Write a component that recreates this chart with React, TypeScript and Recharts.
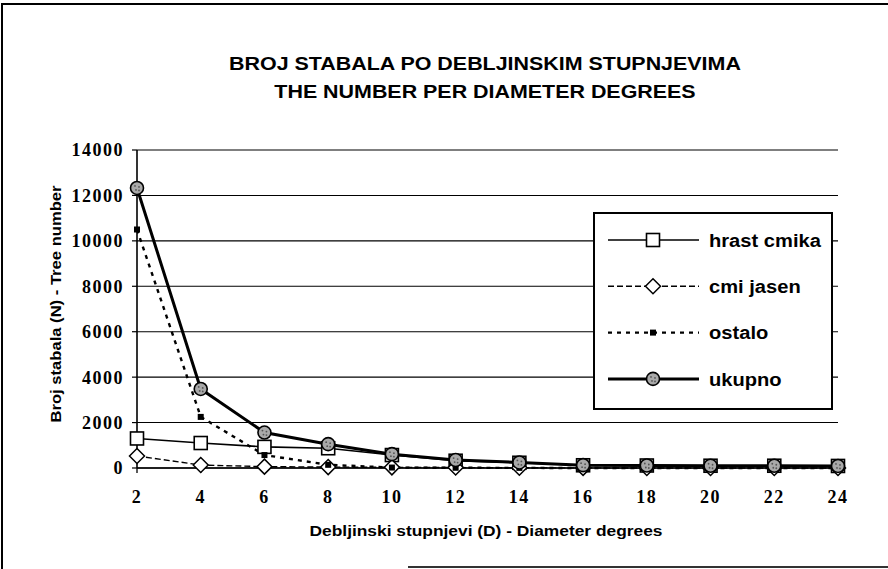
import React from 'react';
import { LineChart, Line, XAxis, YAxis, CartesianGrid, Legend, Label } from 'recharts';

// ---- data ----
const degrees = [2, 4, 6, 8, 10, 12, 14, 16, 18, 20, 22, 24];
const hrastCmika = [1300, 1100, 930, 870, 570, 320, 230, 120, 110, 100, 100, 90];
const cmiJasen = [530, 130, 60, 40, 30, 20, 10, 5, 0, 0, 0, 0];
const ostalo = [10500, 2250, 570, 140, 20, 10, 5, 0, 0, 0, 0, 0];
const ukupno = [12330, 3480, 1560, 1050, 610, 350, 245, 125, 110, 100, 100, 90];

const seriesNames = ['hrast cmika', 'cmi jasen', 'ostalo', 'ukupno'];
const xTicks = [2, 4, 6, 8, 10, 12, 14, 16, 18, 20, 22, 24];
const yTicks = [0, 2000, 4000, 6000, 8000, 10000, 12000, 14000];
const titleLines = ['BROJ STABALA PO DEBLJINSKIM STUPNJEVIMA', 'THE NUMBER PER DIAMETER DEGREES'];
const xAxisTitle = 'Debljinski stupnjevi (D) - Diameter degrees';
const yAxisTitle = 'Broj stabala (N) - Tree number';

const data = degrees.map((d, i) => ({
  d,
  hrast: hrastCmika[i],
  jasen: cmiJasen[i],
  ostalo: ostalo[i],
  ukupno: ukupno[i],
}));

const SANS = '"Liberation Sans", Arial, Helvetica, sans-serif';
const SERIF = '"Liberation Serif", "Times New Roman", serif';

type Kind = 'square' | 'diamond' | 'small' | 'circle';

function Marker({ kind, cx, cy }: { kind: Kind; cx: number; cy: number }) {
  if (cx == null || cy == null) return null;
  if (kind === 'square') {
    return <rect x={cx - 6.5} y={cy - 6.5} width={13} height={13} fill="#fff" stroke="#000" strokeWidth={1.6} />;
  }
  if (kind === 'diamond') {
    return (
      <polygon
        points={`${cx},${cy - 7.5} ${cx + 7.5},${cy} ${cx},${cy + 7.5} ${cx - 7.5},${cy}`}
        fill="#fff"
        stroke="#000"
        strokeWidth={1.5}
      />
    );
  }
  if (kind === 'small') {
    return <rect x={cx - 3} y={cy - 3} width={6} height={6} fill="#000" />;
  }
  return (
    <g>
      <circle cx={cx} cy={cy} r={6.5} fill="#a9a9a9" stroke="#000" strokeWidth={1.6} />
      <circle cx={cx - 2} cy={cy - 2} r={0.9} fill="#555" />
      <circle cx={cx + 2} cy={cy - 1} r={0.9} fill="#555" />
      <circle cx={cx - 1} cy={cy + 2} r={0.9} fill="#555" />
      <circle cx={cx + 2} cy={cy + 2.5} r={0.9} fill="#555" />
    </g>
  );
}

const legendItems: { name: string; width: number; dash?: string; kind: Kind }[] = [
  { name: seriesNames[0], width: 1.6, kind: 'square' },
  { name: seriesNames[1], width: 1.4, dash: '6 3', kind: 'diamond' },
  { name: seriesNames[2], width: 2.2, dash: '4 5', kind: 'small' },
  { name: seriesNames[3], width: 3, kind: 'circle' },
];

const renderLegend = () => (
  <div
    style={{
      width: 240,
      height: 198,
      border: '2px solid #000',
      background: '#fff',
      boxSizing: 'border-box',
    }}
  >
    <svg width={236} height={194} style={{ display: 'block' }}>
      {legendItems.map((it, i) => {
        const y = 26 + i * 46.3;
        return (
          <g key={it.name}>
            <line x1={13} x2={104} y1={y} y2={y} stroke="#000" strokeWidth={it.width} strokeDasharray={it.dash} />
            <Marker kind={it.kind} cx={58} cy={y} />
            <text
              transform={`translate(114 ${y}) scale(1.06 1)`}
              dy="0.36em"
              fontFamily={SANS}
              fontWeight="bold"
              fontSize={19}
              fill="#000"
            >
              {it.name}
            </text>
          </g>
        );
      })}
    </svg>
  </div>
);

export default function App() {
  return (
    <div
      style={{
        position: 'fixed',
        left: 0,
        top: 0,
        width: 888,
        height: 569,
        background: '#fff',
        overflow: 'hidden',
      }}
    >
      {/* outer frame remnants */}
      <div style={{ position: 'absolute', left: 1, top: 3, width: 2, height: 566, background: '#000' }} />
      <div style={{ position: 'absolute', left: 1, top: 3, width: 887, height: 2, background: '#000' }} />
      <div style={{ position: 'absolute', left: 408, top: 566, width: 480, height: 2, background: '#333' }} />

      {/* title */}
      <div
        style={{
          position: 'absolute',
          left: 85,
          top: 50,
          width: 800,
          textAlign: 'center',
          fontFamily: SANS,
          fontWeight: 'bold',
          fontSize: 18,
          lineHeight: '28px',
          color: '#000',
          transform: 'scaleX(1.19)',
          transformOrigin: '400px 0',
          zIndex: 2,
        }}
      >
        {titleLines.map((t) => (
          <div key={t}>{t}</div>
        ))}
      </div>

      <LineChart width={888} height={569} data={data} margin={{ top: 150, right: 50, bottom: 0, left: 0 }}>
        <CartesianGrid horizontal vertical={false} stroke="#000" strokeWidth={1.1} />
        <XAxis
          dataKey="d"
          type="number"
          domain={[2, 24]}
          ticks={xTicks}
          interval={0}
          height={101}
          axisLine={{ stroke: '#000', strokeWidth: 1.6 }}
          tickLine={{ stroke: '#000', strokeWidth: 1.3 }}
          tickSize={5}
          tickMargin={17}
          tick={{ fontFamily: SERIF, fontWeight: 'bold', fontSize: 18, fill: '#000', letterSpacing: 1.5 }}
        >
          <Label
            content={() => (
              <text
                transform="translate(486 536) scale(1.157 1)"
                textAnchor="middle"
                fontFamily={SANS}
                fontWeight="bold"
                fontSize={15}
                fill="#000"
              >
                {xAxisTitle}
              </text>
            )}
          />
        </XAxis>
        <YAxis
          type="number"
          domain={[0, 14000]}
          ticks={yTicks}
          interval={0}
          width={137}
          axisLine={{ stroke: '#000', strokeWidth: 1.6 }}
          tickLine={{ stroke: '#000', strokeWidth: 1.2 }}
          tickSize={5}
          tickMargin={8}
          tick={{ fontFamily: SERIF, fontWeight: 'bold', fontSize: 18, fill: '#000', letterSpacing: 1.5 }}
        >
          <Label
            content={() => (
              <text
                transform="translate(61 304) rotate(-90) scale(1.107 1)"
                textAnchor="middle"
                fontFamily={SANS}
                fontWeight="bold"
                fontSize={15}
                fill="#000"
              >
                {yAxisTitle}
              </text>
            )}
          />
        </YAxis>
        <Legend
          layout="vertical"
          align="center"
          verticalAlign="middle"
          content={renderLegend}
          wrapperStyle={{ left: 593, top: 212, width: 240, height: 198 }}
        />
        <Line
          name={seriesNames[0]}
          dataKey="hrast"
          stroke="#000"
          strokeWidth={1.6}
          isAnimationActive={false}
          activeDot={false}
          dot={(p: any) => <Marker key={`h-${p.index}`} kind="square" cx={p.cx} cy={p.cy} />}
        />
        <Line
          name={seriesNames[1]}
          dataKey="jasen"
          stroke="#000"
          strokeWidth={1.4}
          strokeDasharray="6 3"
          isAnimationActive={false}
          activeDot={false}
          dot={(p: any) => <Marker key={`j-${p.index}`} kind="diamond" cx={p.cx} cy={p.cy} />}
        />
        <Line
          name={seriesNames[2]}
          dataKey="ostalo"
          stroke="#000"
          strokeWidth={2.4}
          strokeDasharray="4 5"
          isAnimationActive={false}
          activeDot={false}
          dot={(p: any) => <Marker key={`o-${p.index}`} kind="small" cx={p.cx} cy={p.cy} />}
        />
        <Line
          name={seriesNames[3]}
          dataKey="ukupno"
          stroke="#000"
          strokeWidth={3}
          isAnimationActive={false}
          activeDot={false}
          dot={(p: any) => <Marker key={`u-${p.index}`} kind="circle" cx={p.cx} cy={p.cy} />}
        />
      </LineChart>
    </div>
  );
}
